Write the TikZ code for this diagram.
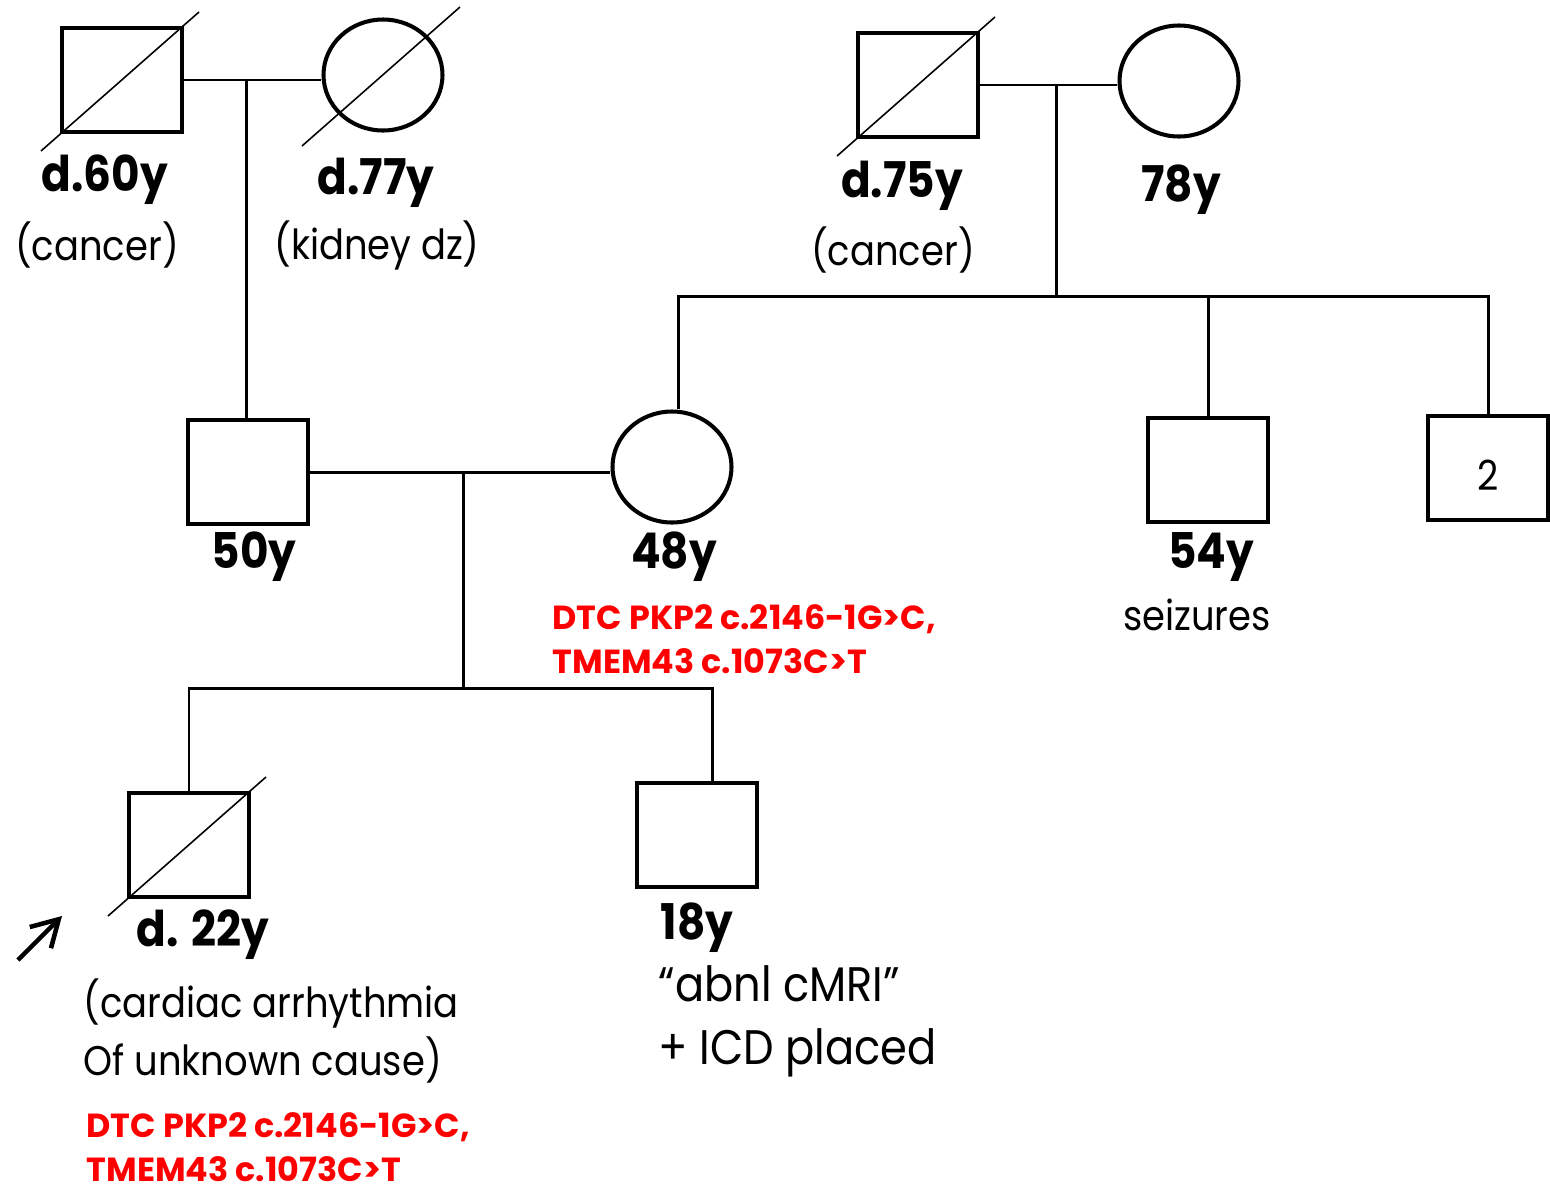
\documentclass[tikz,border=0pt]{standalone}
\usepackage{fontspec}
\setsansfont{Poppins}[FakeStretch=0.89]
\newfontfamily\genefont{Poppins}
\usetikzlibrary{arrows.meta,positioning,shapes.geometric,calc}
\definecolor{ink}{HTML}{000000}
\definecolor{variant}{HTML}{FF0000}
\tikzset{
  every node/.style={font=\sffamily},
  male/.style={draw=ink, rectangle, line width=1.15pt, minimum width=1.2cm, minimum height=1.04cm, inner sep=0pt, fill=white},
  female/.style={draw=ink, ellipse, line width=1.15pt, minimum width=1.19cm, minimum height=1.11cm, inner sep=0pt, fill=white},
  age/.style={font=\sffamily\bfseries\fontsize{14}{16}\selectfont, text=ink, inner sep=0pt},
  note/.style={font=\sffamily\fontsize{11.8}{16.5}\selectfont, text=ink, inner sep=0pt},
  gene/.style={font=\genefont\bfseries\fontsize{9.5}{12.4}\selectfont, text=variant, align=left, inner sep=0pt},
  link/.style={line width=0.85pt, draw=ink},
  slash/.style={line width=0.45pt, draw=ink},
  proband/.style={-{Straight Barb[length=2.6mm,width=3mm,line width=1.3pt]}, line width=1.3pt, draw=ink},
}

\begin{document}
\begin{tikzpicture}
\useasboundingbox (0,0) rectangle (15.5,-11.89);
% generation I
\node[male] (gfP) at (1.22,-0.80) {};
\node[female] (gmP) at (3.83,-0.75) {};
\node[male] (gfM) at (9.18,-0.85) {};
\node[female] (gmM) at (11.79,-0.81) {};
% generation II
\node[male] (dad) at (2.48,-4.72) {};
\node[female] (mom) at (6.72,-4.67) {};
\node[male] (uncle) at (12.08,-4.70) {};
\node[male] (uncles) at (14.88,-4.68) {};
% generation III
\node[male] (son) at (1.89,-8.45) {};
\node[male] (bro) at (6.97,-8.35) {};

% marriages and descents
\draw[link] (gfP.east) -- coordinate[pos=0.454] (mP) (gfP.east -| gmP.west);
\draw[link] (mP) -- (mP |- dad.north);
\draw[link] (gfM.east) -- coordinate[pos=0.556] (mM) (gfM.east -| gmM.west);
\draw[link] (mM) -- ++(0,-2.11) coordinate (sibM);
\draw[link] ([xshift=0.06cm]mom.north) |- (sibM) -| (uncles.north);
\draw[link] (uncle.north) -- (uncle.north |- sibM);
\draw[link] (dad.east) -- coordinate[pos=0.51] (mC) (dad.east -| mom.west);
\draw[link] (mC) -- ++(0,-2.16) coordinate (sibC);
\draw[link] (son.north) |- (sibC) -| ([xshift=0.15cm]bro.north);

% deceased
\foreach \n in {gfP,gmP,gfM,son}
  \draw[slash] ($(\n.center)+(-0.81,-0.71)$) -- ($(\n.center)+(0.77,0.68)$);

% labels
\node[age] (gfPage) at (1.05,-1.80) {d.60y};
\node[note] (gfPnote) at (0.97,-2.45) {(cancer)};
\node[age] (gmPage) at (3.76,-1.83) {d.77y};
\node[note] (gmPnote) at (3.77,-2.45) {(kidney dz)};
\node[age] (gfMage) at (9.02,-1.86) {d.75y};
\node[note] (gfMnote) at (8.93,-2.50) {(cancer)};
\node[age] (gmMage) at (11.81,-1.90) {78y};
\node[age] (dadage) at (2.54,-5.57) {50y};
\node[age] (momage) at (6.74,-5.57) {48y};
\node[gene, anchor=west] (momgene) at (5.52,-6.39) {DTC PKP2 c.2146-1G>C,\\TMEM43 c.1073C>T};
\node[age] (uncleage) at (12.11,-5.57) {54y};
\node[note] (unclenote) at (11.97,-6.15) {seizures};
\node[note] (unclescount) at ([yshift=-0.07cm]uncles.center) {2};
\node[age] (sonage) at (2.03,-9.35) {d. 22y};
\node[note, anchor=west, align=left] (sonnote) at (0.83,-10.31) {(cardiac arrhythmia\\Of unknown cause)};
\node[gene, anchor=west] (songene) at (0.86,-11.47) {DTC PKP2 c.2146-1G>C,\\TMEM43 c.1073C>T};
\node[age, anchor=west] (broage) at (6.60,-9.28) {18y};
\node[note, anchor=west, align=left, font=\sffamily\fontsize{13.8}{18}\selectfont] (bronote) at (6.58,-10.21) {“abnl cMRI”\\+ ICD placed};

% proband
\coordinate (pbtail) at (0.18,-9.60);
\coordinate (pbtip) at (0.62,-9.16);
\draw[proband] (pbtail) -- (pbtip);
\end{tikzpicture}
\end{document}
